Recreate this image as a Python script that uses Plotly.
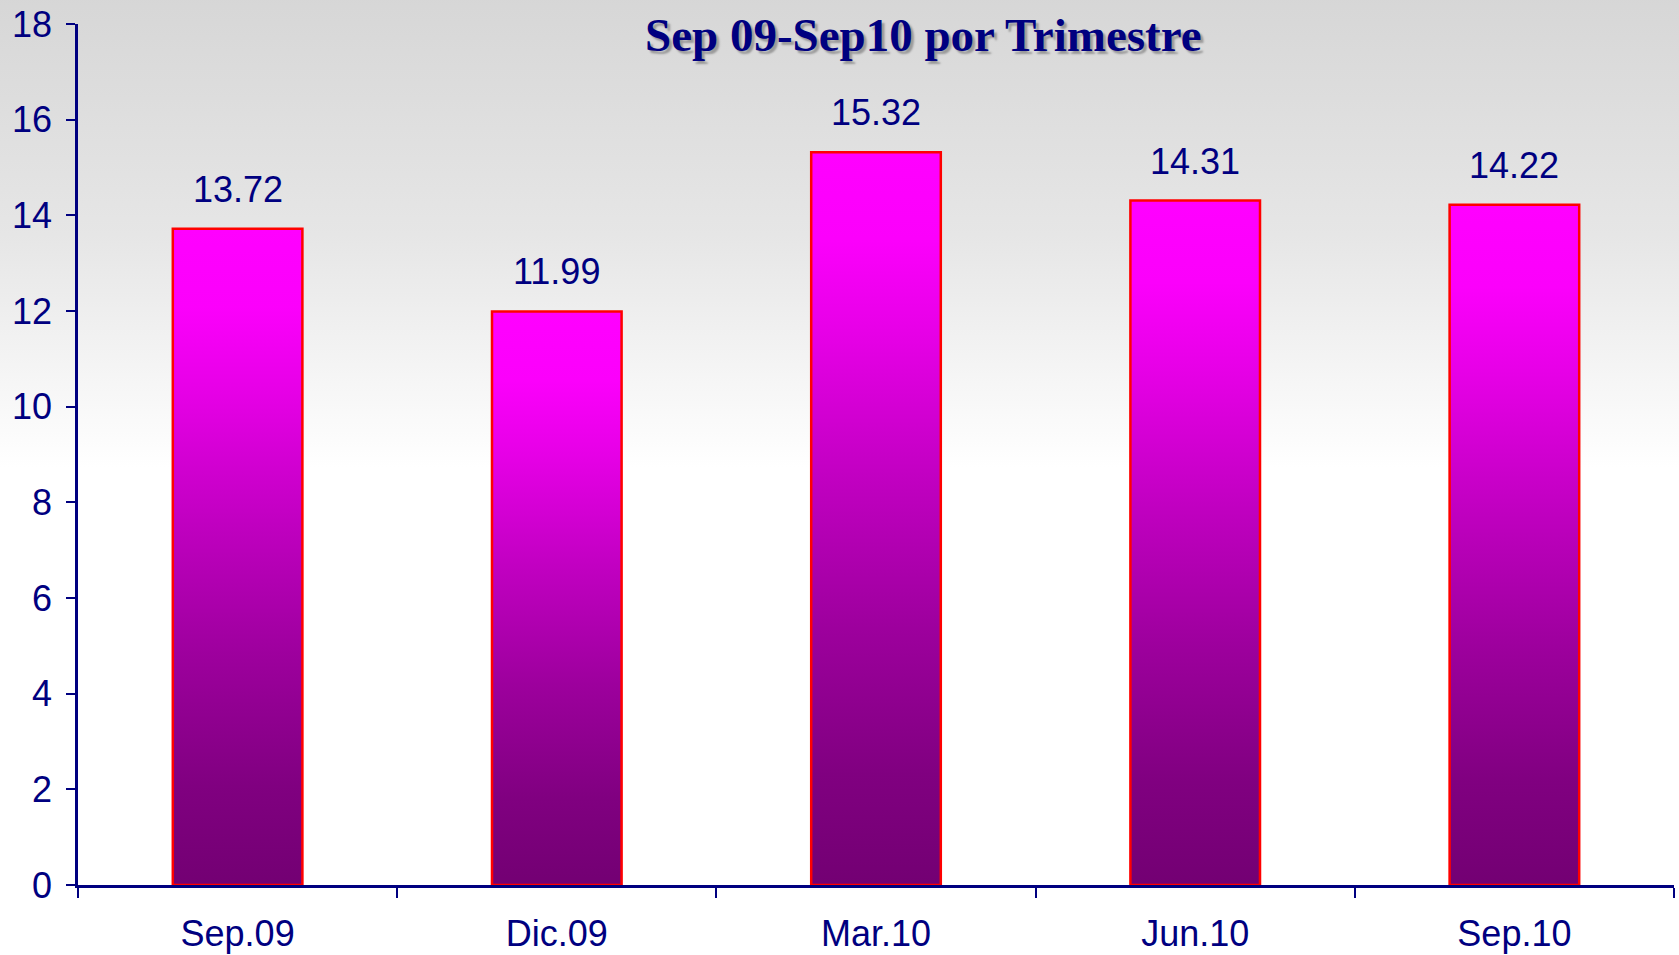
import base64
import plotly.graph_objects as go

# ---- data ----
categories = ["Sep.09", "Dic.09", "Mar.10", "Jun.10", "Sep.10"]
values = [13.72, 11.99, 15.32, 14.31, 14.22]
value_labels = ["13.72", "11.99", "15.32", "14.31", "14.22"]
y_ticks = [0, 2, 4, 6, 8, 10, 12, 14, 16, 18]
title_text = "Sep 09-Sep10 por Trimestre"

# ---- style ----
W, H = 1679, 955
ML, MR, MT, MB = 78, 5, 24, 70
NAVY = "#000080"
BAR_W = 0.406
FONT = "Liberation Sans, Arial, sans-serif"
bar_scale = [[0.0, "#730073"], [0.15, "#800080"], [0.35, "#9d009d"],
             [0.55, "#c000c0"], [0.75, "#e600e6"], [0.88, "#fb00fb"], [1.0, "#ff00ff"]]

fig = go.Figure()

for i, v in enumerate(values):
    x0, x1 = i - BAR_W / 2, i + BAR_W / 2
    fig.add_trace(go.Scatter(
        x=[x0, x0, x1, x1, x0], y=[0, v, v, 0, 0],
        mode="lines", fill="toself",
        fillgradient=dict(type="vertical", colorscale=bar_scale),
        line=dict(color="#ff0000", width=2.5),
        hoverinfo="skip", showlegend=False))

for i, (v, t) in enumerate(zip(values, value_labels)):
    fig.add_annotation(x=i, y=v, text=t, showarrow=False, yanchor="bottom",
                       yshift=17, font=dict(family=FONT, size=36, color=NAVY))

fig.add_annotation(xref="paper", yref="paper", x=0.530, y=1 + (MT - 35) / (H - MT - MB),
                   text="<b>%s</b>" % title_text, showarrow=False,
                   xanchor="center", yanchor="middle",
                   font=dict(family="Liberation Serif, Times New Roman, serif", size=47,
                             color=NAVY, shadow="3px 3px 2px #9a9a9a"))

# background gradient (whole figure)
svg = ('<svg xmlns="http://www.w3.org/2000/svg" width="100" height="100" viewBox="0 0 100 100" '
       'preserveAspectRatio="none">'
       '<defs><linearGradient id="g" x1="0" y1="0" x2="0" y2="1">'
       '<stop offset="0" stop-color="#d6d6d6"/><stop offset="0.25" stop-color="#e6e6e6"/>'
       '<stop offset="0.49" stop-color="#ffffff"/><stop offset="1" stop-color="#ffffff"/>'
       '</linearGradient></defs><rect x="0" y="0" width="100" height="100" fill="url(#g)"/></svg>')
uri = "data:image/svg+xml;base64," + base64.b64encode(svg.encode()).decode()
pw, ph = W - ML - MR, H - MT - MB
fig.add_layout_image(source=uri, xref="paper", yref="paper",
                     x=-ML / pw - 0.01, y=1 + MT / ph + 0.01, sizex=W / pw + 0.02, sizey=H / ph + 0.02,
                     xanchor="left", yanchor="top", sizing="stretch", layer="below")

fig.update_layout(
    width=W, height=H,
    margin=dict(l=ML, r=MR, t=MT, b=MB, autoexpand=False),
    paper_bgcolor="rgba(0,0,0,0)", plot_bgcolor="rgba(0,0,0,0)",
    showlegend=False,
    xaxis=dict(range=[-0.5, 4.5], tickmode="array", tickvals=list(range(len(categories))),
               ticktext=categories, ticks="", showgrid=False, zeroline=False, automargin=False,
               showline=True, linecolor=NAVY, linewidth=2.5,
               tickfont=dict(family=FONT, size=36, color=NAVY), ticklabelstandoff=15,
               minor=dict(tickmode="linear", tick0=-0.5, dtick=1, ticks="outside",
                          ticklen=10, tickwidth=2, tickcolor=NAVY, showgrid=False)),
    yaxis=dict(range=[0, 18], tickmode="array", tickvals=y_ticks, ticks="outside",
               ticklen=9, tickwidth=2, tickcolor=NAVY, showgrid=False, zeroline=False,
               automargin=False,
               showline=True, linecolor=NAVY, linewidth=2.5,
               tickfont=dict(family=FONT, size=36, color=NAVY), ticklabelstandoff=7),
)

fig.write_html("out.html", config={"displayModeBar": False},
               post_script="document.body.style.margin='0';document.body.style.overflow='hidden';")
